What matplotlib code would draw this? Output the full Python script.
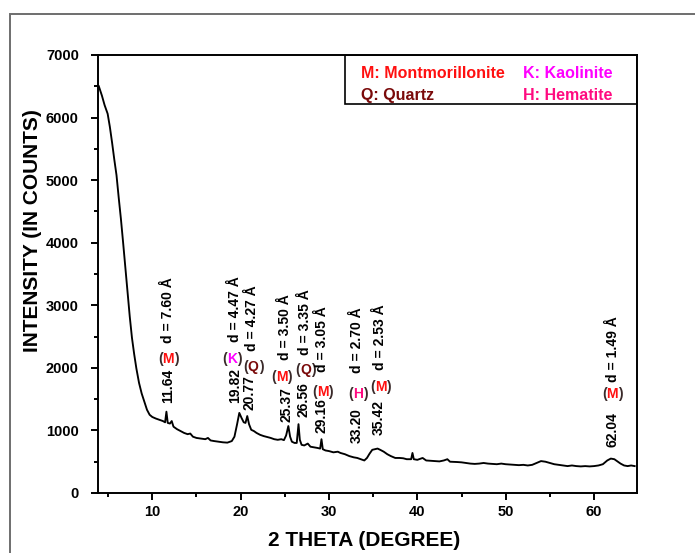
import matplotlib
matplotlib.use('Agg')
import matplotlib.pyplot as plt
from matplotlib.ticker import MultipleLocator
from matplotlib.patches import Rectangle
from matplotlib.offsetbox import TextArea, HPacker, AnnotationBbox

plt.rcParams['font.family'] = ['Liberation Sans', 'DejaVu Sans']
plt.rcParams['font.weight'] = 'bold'

# XRD pattern
two_theta = [3.95, 4.3, 4.6, 4.95, 5.2, 5.45, 5.7, 5.95, 6.2, 6.45, 6.7, 6.95, 7.2, 7.45,
             7.7, 7.95, 8.2, 8.5, 8.8, 9.1, 9.4, 9.7, 10.0, 10.4, 10.8, 11.2, 11.45, 11.6,
             11.75, 12.0, 12.2, 12.4, 12.8, 13.2, 13.6, 14.0, 14.3, 14.6, 15.0, 15.5, 16.0,
             16.3, 16.6, 17.0, 17.5, 18.0, 18.5, 19.0, 19.3, 19.6, 19.85, 20.1, 20.35, 20.55,
             20.75, 20.95, 21.2, 21.5, 21.8, 22.2, 22.6, 23.0, 23.4, 23.8, 24.2, 24.6, 24.9,
             25.15, 25.4, 25.6, 25.8, 26.1, 26.35, 26.55, 26.7, 26.9, 27.2, 27.6, 27.9, 28.3,
             28.7, 29.0, 29.15, 29.3, 29.6, 30.0, 30.5, 31.0, 31.3, 31.8, 32.3, 32.8, 33.2,
             33.6, 34.0, 34.3, 34.6, 34.9, 35.2, 35.5, 35.8, 36.2, 36.6, 37.0, 37.5, 38.0,
             38.4, 38.8, 39.3, 39.45, 39.6, 40.0, 40.6, 41.0, 41.5, 42.0, 42.5, 43.0, 43.4,
             43.7, 44.5, 45.0, 45.5, 46.0, 46.5, 47.0, 47.5, 48.0, 48.5, 49.0, 49.5, 50.0,
             50.5, 51.0, 51.5, 52.0, 52.5, 53.0, 53.5, 54.0, 54.5, 55.0, 55.5, 56.0, 56.5,
             57.0, 57.5, 58.0, 58.5, 59.0, 59.5, 60.0, 60.5, 61.0, 61.5, 61.9, 62.3, 62.7,
             63.0, 63.4, 63.8, 64.2, 64.6]
counts = [6500, 6350, 6200, 6060, 5850, 5600, 5330, 5080, 4720, 4380, 4000, 3600, 3180, 2820,
          2480, 2220, 1990, 1760, 1590, 1460, 1330, 1250, 1215, 1190, 1170, 1150, 1130, 1300,
          1120, 1110, 1150, 1060, 1020, 990, 960, 940, 950, 900, 880, 870, 860,
          880, 840, 830, 820, 810, 805, 830, 900, 1100, 1280, 1200, 1130, 1120,
          1230, 1100, 1010, 990, 960, 930, 910, 895, 880, 860, 850, 860, 845,
          920, 1070, 900, 820, 800, 800, 1100, 850, 770, 760, 790, 740, 730,
          720, 710, 860, 700, 680, 670, 650, 660, 640, 620, 590, 570, 560,
          540, 520, 560, 630, 690, 700, 710, 690, 660, 620, 590, 560, 560,
          555, 540, 540, 640, 540, 530, 560, 520, 515, 510, 505, 520, 540,
          500, 495, 490, 480, 470, 465, 470, 480, 470, 465, 460, 470, 460,
          455, 450, 445, 450, 440, 450, 480, 510, 500, 480, 460, 450, 440,
          430, 440, 430, 425, 430, 425, 430, 440, 460, 520, 550, 540, 500,
          470, 440, 430, 440, 430]

peak_pos = ['11.64', '19.82', '20.77', '25.37', '26.56', '29.16', '33.20', '35.42', '62.04']
d_spacing = ['7.60', '4.47', '4.27', '3.50', '3.35', '3.05', '2.70', '2.53', '1.49']
phase = ['M', 'K', 'Q', 'M', 'Q', 'M', 'H', 'M', 'M']

phase_names = {'M': 'Montmorillonite', 'K': 'Kaolinite', 'Q': 'Quartz', 'H': 'Hematite'}
phase_colors = {'M': '#ff1010', 'K': '#ff00ff', 'Q': '#7a0a0a', 'H': '#ff0a80'}

# label placement (x, y in data units): number, phase tag, d-spacing
num_xy = [(11.81, 1438), (19.36, 1438), (21.06, 1327), (25.21, 1140), (27.09, 1219),
          (29.18, 954), (33.14, 794), (35.58, 927), (62.12, 740)]
tag_xy = [(11.81, 2137), (18.99, 2137), (21.43, 2009), (24.65, 1849), (27.36, 1966),
          (29.29, 1614), (33.32, 1582), (35.85, 1699), (62.07, 1577)]
d_xy = [(11.81, 2393), (19.36, 2418), (21.25, 2274), (25.02, 2126), (27.29, 2206),
        (29.18, 1939), (33.14, 1913), (35.78, 1966), (62.12, 1779)]

fig = plt.figure(figsize=(6.95, 5.53), dpi=100)
ax = fig.add_axes([98.3 / 695, 1 - 493 / 553, (636.7 - 98.3) / 695, (493 - 55) / 553])

# outer gray frame (cropped)
fig.patches.append(Rectangle((10 / 695, -0.1), 1.2, 0.1 + 1 - 14 / 553,
                             transform=fig.transFigure, fill=False,
                             edgecolor='#6e6e6e', linewidth=1.4))

ax.plot(two_theta, counts, color='black', linewidth=1.35)

ax.set_xlim(3.89, 64.83)
ax.set_ylim(0, 7000)
ax.xaxis.set_major_locator(MultipleLocator(10))
ax.xaxis.set_minor_locator(MultipleLocator(5))
ax.yaxis.set_major_locator(MultipleLocator(1000))
ax.yaxis.set_minor_locator(MultipleLocator(500))
ax.tick_params(which='both', direction='out', width=1.4, top=False, right=False,
               labelsize=10.5)
ax.tick_params(which='major', length=5)
ax.tick_params(which='minor', length=3)
ax.tick_params(axis='y', which='major', pad=9)
for lbl in ax.get_xticklabels() + ax.get_yticklabels():
    lbl.set_fontweight('bold')
for sp in ax.spines.values():
    sp.set_linewidth(1.4)

fig.text(364 / 695, 1 - 541 / 553, '2 THETA (DEGREE)', ha='center', va='center',
         fontsize=15, fontweight='bold')
fig.text(33 / 695, 1 - 231 / 553, 'INTENSITY (IN COUNTS)', ha='center', va='center',
         rotation=90, fontsize=15, fontweight='bold')

# peak annotations
for i in range(len(peak_pos)):
    ax.text(num_xy[i][0], num_xy[i][1], peak_pos[i], rotation=90, ha='center',
            va='bottom', fontsize=10, fontweight='bold')
    ax.text(d_xy[i][0], d_xy[i][1], 'd = ' + d_spacing[i] + ' Å', rotation=90,
            ha='center', va='bottom', fontsize=10, fontweight='bold')
    p = phase[i]
    parts = [TextArea('(', textprops=dict(color='#3a2a2a', fontsize=10, fontweight='bold')),
             TextArea(p, textprops=dict(color=phase_colors[p], fontsize=10, fontweight='bold')),
             TextArea(')', textprops=dict(color='#3a2a2a', fontsize=10, fontweight='bold'))]
    box = HPacker(children=parts, align='center', pad=0, sep=0)
    ab = AnnotationBbox(box, tag_xy[i], frameon=False, box_alignment=(0.5, 0.5), pad=0)
    ax.add_artist(ab)

# key box in the upper right
ax.add_patch(Rectangle((31.8, 6217), 64.83 - 31.8, 7000 - 6217, fill=False,
                       edgecolor='black', linewidth=1.2, zorder=3))
key_xy = {'M': (33.6, 6706), 'K': (52.0, 6706), 'Q': (33.6, 6355), 'H': (52.0, 6355)}
for p in ['M', 'K', 'Q', 'H']:
    ax.text(key_xy[p][0], key_xy[p][1], p + ': ' + phase_names[p], color=phase_colors[p],
            ha='left', va='center', fontsize=11.5, fontweight='bold')

fig.savefig('out.png', dpi=100)
